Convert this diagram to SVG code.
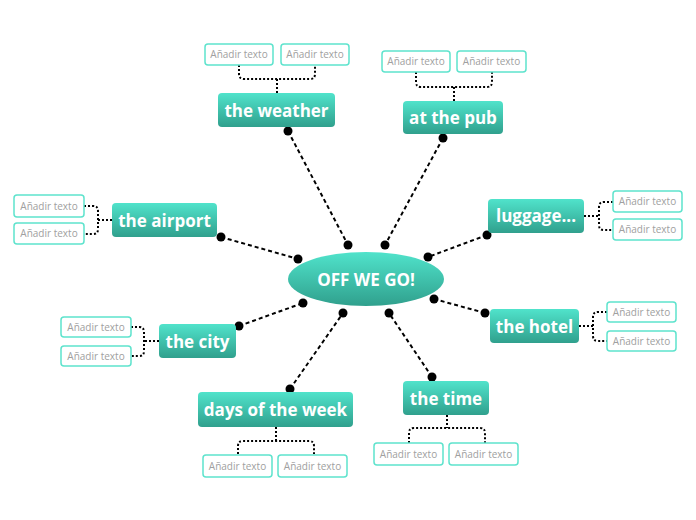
<svg xmlns="http://www.w3.org/2000/svg" width="696" height="520" viewBox="0 0 696 520">
<defs>
<linearGradient id="g" x1="0" y1="0" x2="0" y2="1">
<stop offset="0" stop-color="#50e3cb"/>
<stop offset="1" stop-color="#30a08d"/>
</linearGradient>
<style>
.topic{fill:url(#g)}
.tt{font-family:"Open Sans","DejaVu Sans",sans-serif;font-weight:bold;font-size:17px;fill:#fff;text-anchor:middle}
.sub{fill:#fff;stroke:#5ee3cd;stroke-width:1.5}
.st{font-family:"Open Sans","DejaVu Sans",sans-serif;font-size:10px;fill:#a0a0a0;text-anchor:middle}
.spoke{stroke:#000;stroke-width:2;stroke-dasharray:4 3;fill:none}
.br{stroke:#000;stroke-width:2;stroke-dasharray:2 2;fill:none}
.dot{fill:#000}
</style>
</defs>
<rect width="696" height="520" fill="#fff"/>
<g id="connectors">
<line class="spoke" x1="288" y1="131" x2="348" y2="245"/>
<line class="spoke" x1="443" y1="138" x2="385" y2="245"/>
<line class="spoke" x1="487" y1="235" x2="428" y2="257"/>
<line class="spoke" x1="485" y1="313" x2="434" y2="299"/>
<line class="spoke" x1="432" y1="377" x2="389" y2="313"/>
<line class="spoke" x1="290" y1="389" x2="343" y2="313"/>
<line class="spoke" x1="239" y1="326" x2="303" y2="303"/>
<line class="spoke" x1="221" y1="237" x2="298" y2="259"/>
<g class="dot">
<circle cx="288" cy="131" r="4.5"/><circle cx="348" cy="245" r="4.5"/>
<circle cx="443" cy="138" r="4.5"/><circle cx="385" cy="245" r="4.5"/>
<circle cx="487" cy="235" r="4.5"/><circle cx="428" cy="257" r="4.5"/>
<circle cx="485" cy="313" r="4.5"/><circle cx="434" cy="299" r="4.5"/>
<circle cx="432" cy="377" r="4.5"/><circle cx="389" cy="313" r="4.5"/>
<circle cx="290" cy="389" r="4.5"/><circle cx="343" cy="313" r="4.5"/>
<circle cx="239" cy="326" r="4.5"/><circle cx="303" cy="303" r="4.5"/>
<circle cx="221" cy="237" r="4.5"/><circle cx="298" cy="259" r="4.5"/>
</g>
<path class="br" d="M277,93 V79 M239,65 V74 Q239,79 244,79 H310 Q315,79 315,74 V65"/>
<path class="br" d="M454,101 V87 M416,72 V82 Q416,87 421,87 H487 Q492,87 492,82 V72"/>
<path class="br" d="M584,216 H599 M613,202 H604 Q599,202 599,207 V225 Q599,230 604,230 H613"/>
<path class="br" d="M579,326 H593 M607,312 H598 Q593,312 593,317 V336 Q593,341 598,341 H607"/>
<path class="br" d="M447,415 V428 M409,443 V433 Q409,428 414,428 H480 Q485,428 485,433 V443"/>
<path class="br" d="M276,427 V441 M238,454 V446 Q238,441 243,441 H309 Q314,441 314,446 V454"/>
<path class="br" d="M159,341 H144 M131,327 H139 Q144,327 144,332 V351 Q144,356 139,356 H131"/>
<path class="br" d="M112,220 H98 M84,206 H93 Q98,206 98,211 V229 Q98,234 93,234 H84"/>
</g>
<g id="center">
<ellipse class="topic" cx="366" cy="279" rx="78" ry="27"/>
<text class="tt" x="366" y="286">OFF WE GO!</text>
</g>
<g id="weather">
<rect class="topic" x="218" y="93" width="117" height="34" rx="4"/>
<text class="tt" x="276.5" y="117">the weather</text>
</g>
<g id="weather-subs">
<rect class="sub" x="205" y="44" width="68" height="21" rx="3"/><text class="st" x="239" y="58">Añadir texto</text>
<rect class="sub" x="281" y="44" width="68" height="21" rx="3"/><text class="st" x="315" y="58">Añadir texto</text>
</g>
<g id="pub">
<rect class="topic" x="403" y="101" width="100" height="33" rx="4"/>
<text class="tt" x="453" y="124">at the pub</text>
</g>
<g id="pub-subs">
<rect class="sub" x="382" y="51" width="68" height="21" rx="3"/><text class="st" x="416" y="65">Añadir texto</text>
<rect class="sub" x="457" y="51" width="69" height="21" rx="3"/><text class="st" x="491.5" y="65">Añadir texto</text>
</g>
<g id="luggage">
<rect class="topic" x="488" y="199" width="96" height="34" rx="4"/>
<text class="tt" x="536" y="222">luggage...</text>
</g>
<g id="luggage-subs">
<rect class="sub" x="613" y="191" width="69" height="21" rx="3"/><text class="st" x="647.5" y="205">Añadir texto</text>
<rect class="sub" x="613" y="219" width="69" height="21" rx="3"/><text class="st" x="647.5" y="233">Añadir texto</text>
</g>
<g id="hotel">
<rect class="topic" x="490" y="309" width="89" height="34" rx="4"/>
<text class="tt" x="534.5" y="333">the hotel</text>
</g>
<g id="hotel-subs">
<rect class="sub" x="607" y="302" width="69" height="20" rx="3"/><text class="st" x="641.5" y="316">Añadir texto</text>
<rect class="sub" x="607" y="331" width="69" height="20" rx="3"/><text class="st" x="641.5" y="345">Añadir texto</text>
</g>
<g id="time">
<rect class="topic" x="403" y="381" width="86" height="34" rx="4"/>
<text class="tt" x="446" y="405">the time</text>
</g>
<g id="time-subs">
<rect class="sub" x="374" y="443" width="69" height="22" rx="3"/><text class="st" x="408.5" y="458">Añadir texto</text>
<rect class="sub" x="449" y="443" width="69" height="22" rx="3"/><text class="st" x="483.5" y="458">Añadir texto</text>
</g>
<g id="days">
<rect class="topic" x="198" y="392" width="155" height="35" rx="4"/>
<text class="tt" x="275.5" y="416">days of the week</text>
</g>
<g id="days-subs">
<rect class="sub" x="203" y="455" width="69" height="22" rx="3"/><text class="st" x="237.5" y="470">Añadir texto</text>
<rect class="sub" x="278" y="455" width="69" height="22" rx="3"/><text class="st" x="312.5" y="470">Añadir texto</text>
</g>
<g id="city">
<rect class="topic" x="159" y="324" width="77" height="34" rx="4"/>
<text class="tt" x="197.5" y="348">the city</text>
</g>
<g id="city-subs">
<rect class="sub" x="61" y="317" width="70" height="20" rx="3"/><text class="st" x="96" y="331">Añadir texto</text>
<rect class="sub" x="61" y="346" width="70" height="20" rx="3"/><text class="st" x="96" y="360">Añadir texto</text>
</g>
<g id="airport">
<rect class="topic" x="112" y="203" width="105" height="34" rx="4"/>
<text class="tt" x="164.5" y="227">the airport</text>
</g>
<g id="airport-subs">
<rect class="sub" x="14" y="195" width="70" height="22" rx="3"/><text class="st" x="49" y="210">Añadir texto</text>
<rect class="sub" x="14" y="223" width="70" height="21" rx="3"/><text class="st" x="49" y="237">Añadir texto</text>
</g>
</svg>
